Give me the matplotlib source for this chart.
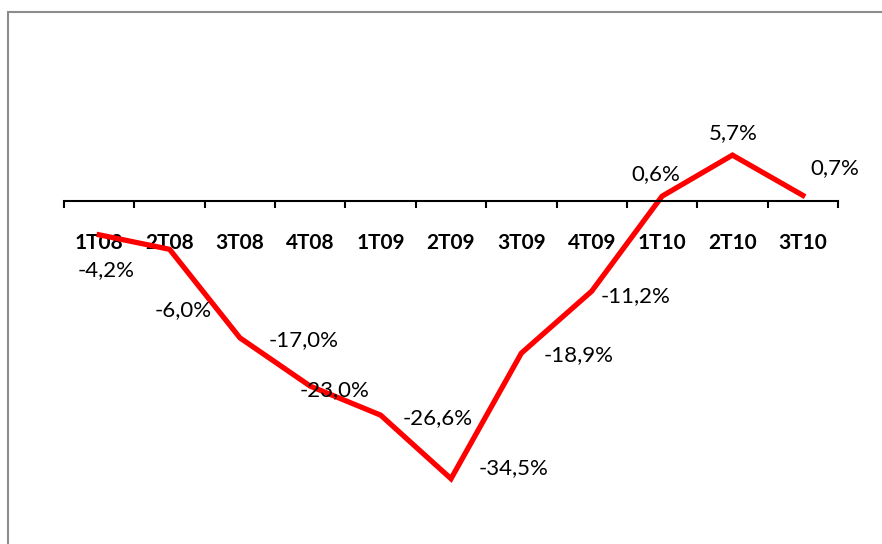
import matplotlib.pyplot as plt
import numpy as np
from matplotlib.patches import Rectangle

plt.rcParams['font.family'] = ['Lato', 'DejaVu Sans']

# Data
quarters = ['1T08', '2T08', '3T08', '4T08', '1T09', '2T09', '3T09', '4T09', '1T10', '2T10', '3T10']
values = [-4.2, -6.0, -17.0, -23.0, -26.6, -34.5, -18.9, -11.2, 0.6, 5.7, 0.7]

# label offsets (pixels) from each point, like the Excel data labels
label_dx = [7, 14, 64, 24, 57, 63, 57, 44, -6, 1, 32]
label_dy = [-35, -61, -2, -4, -3, 11, -2, -5, 22, 22, 27]

W, H = 882, 544
fig = plt.figure(figsize=(W / 100, H / 100), dpi=100)

# gray frame (left and top visible)
fig.patches.append(Rectangle((8 / W, -0.05), 1.2, 1 - 12 / H + 0.05, transform=fig.transFigure,
                             fill=False, edgecolor='#8c8c8c', linewidth=1.5))

# axes placed so zero sits at y=201px, ~8.05 px per percent
px_per = 8.05
y_top, y_bot = 15, -40
top_px = 201 - y_top * px_per
bot_px = 201 - y_bot * px_per
ax = fig.add_axes([64 / W, 1 - bot_px / H, (838 - 64) / W, (bot_px - top_px) / H])

x = np.arange(len(quarters))
ax.plot(x, values, color='#ff0000', linewidth=3.8, solid_joinstyle='miter')

for xi, v, dx, dy in zip(x, values, label_dx, label_dy):
    ax.annotate(f'{v:.1f}%'.replace('.', ','), (xi, v), xytext=(dx, dy),
                textcoords='offset pixels', ha='center', va='center', fontsize=16)

ax.set_xlim(-0.5, len(quarters) - 0.5)
ax.set_ylim(y_bot, y_top)

for s in ['left', 'right', 'top']:
    ax.spines[s].set_visible(False)
ax.spines['bottom'].set_position(('data', 0))
ax.spines['bottom'].set_linewidth(1.5)
ax.set_yticks([])

ax.set_xticks(np.arange(-0.5, len(quarters)))
ax.set_xticklabels([])
ax.tick_params(axis='x', which='major', direction='out', length=5, width=1.5)
ax.set_xticks(x, minor=True)
ax.set_xticklabels(quarters, minor=True, fontsize=15, fontweight='bold')
ax.tick_params(axis='x', which='minor', length=0, pad=23)

fig.savefig('out.png', dpi=100)
